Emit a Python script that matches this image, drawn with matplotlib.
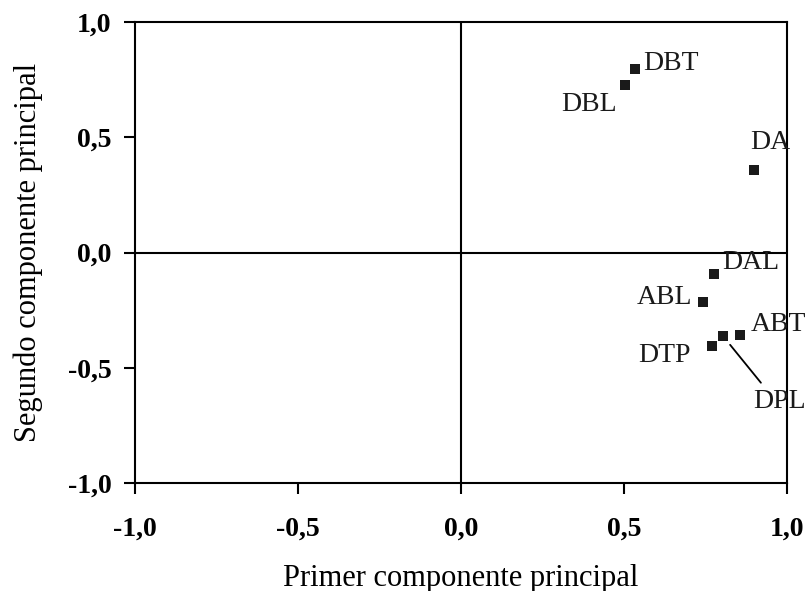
import matplotlib
matplotlib.use("Agg")
import matplotlib.pyplot as plt

# datos
labels = ["DBT", "DBL", "DA", "DAL", "ABL", "ABT", "DPL", "DTP"]
pc1 = [0.534, 0.503, 0.899, 0.776, 0.742, 0.856, 0.804, 0.770]
pc2 = [0.794, 0.726, 0.357, -0.092, -0.214, -0.356, -0.363, -0.406]

ticks = [-1.0, -0.5, 0.0, 0.5, 1.0]
tick_labels = ["-1,0", "-0,5", "0,0", "0,5", "1,0"]

# offsets de las etiquetas (en puntos)
offsets = {
    "DBT": (6, 4, "left"),
    "DBL": (-6, -14, "right"),
    "DA": (-3, 20, "left"),
    "DAL": (6, 8, "left"),
    "ABL": (-8, 3, "right"),
    "ABT": (8, 7, "left"),
    "DPL": (22, -47, "left"),
    "DTP": (-15, -7, "right"),
}

plt.rcParams['font.family'] = ['Liberation Serif', 'DejaVu Serif']

fig = plt.figure(figsize=(8.1, 5.91), dpi=100)
ax = fig.add_axes([0.1667, 0.1827, 0.8049, 0.7801])

ax.axhline(0, color="black", lw=1.5, zorder=1)
ax.axvline(0, color="black", lw=1.5, zorder=1)

ax.scatter(pc1, pc2, marker="s", s=55, color="#1a1a1a", zorder=3, linewidths=0)

for lab, x, y in zip(labels, pc1, pc2):
    dx, dy, ha = offsets[lab]
    ax.annotate(lab, (x, y), xytext=(dx, dy), textcoords="offset points",
                ha=ha, va="center", fontsize=20, color="#1a1a1a",
                annotation_clip=False, zorder=4)

# linea guia para DPL
ax.annotate("", xy=(0.804, -0.363), xytext=(0.92, -0.565),
            arrowprops=dict(arrowstyle="-", color="black", lw=1.3,
                            shrinkA=0, shrinkB=8))

ax.set_xlim(-1, 1)
ax.set_ylim(-1, 1)
ax.set_xticks(ticks)
ax.set_xticklabels(tick_labels, fontweight="bold", fontsize=20)
ax.set_yticks(ticks)
ax.set_yticklabels(tick_labels, fontweight="bold", fontsize=20)
ax.tick_params(direction="out", length=8, width=1.5)
ax.tick_params(axis="x", pad=16)
ax.tick_params(axis="y", pad=9)

for s in ax.spines.values():
    s.set_linewidth(1.5)

ax.set_xlabel("Primer componente principal", fontsize=22, labelpad=16)
ax.set_ylabel("Segundo componente principal", fontsize=22, labelpad=18)

fig.savefig("out.png", dpi=100)
